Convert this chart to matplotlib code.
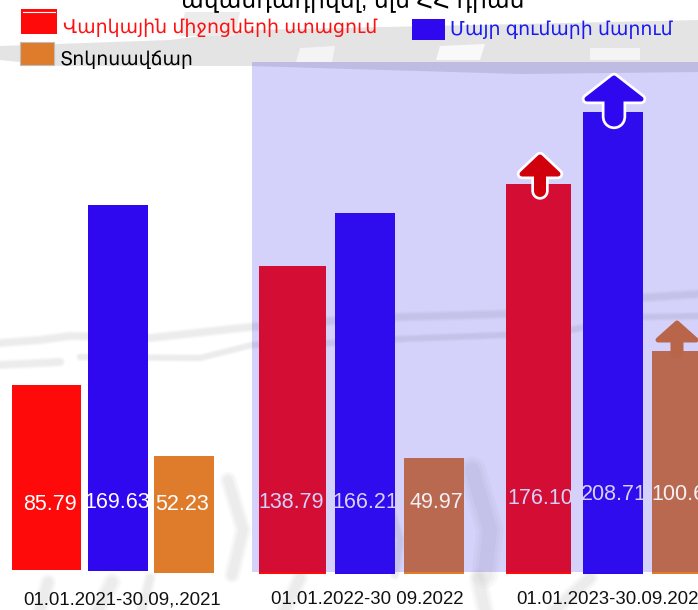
import numpy as np
import matplotlib
matplotlib.use("Agg")
import matplotlib.pyplot as plt
import matplotlib.patches as patches
import matplotlib.patheffects as pe

plt.rcParams['font.family'] = ['Liberation Sans', 'DejaVu Sans']

# labels written on the bars
red_txt = ["85.79", "138.79", "176.10"]
blue_txt = ["169.63", "166.21", "208.71"]
orange_txt = ["52.23", "49.97", "100.6"]
periods = ["01.01.2021-30.09,.2021", "01.01.2022-30 09.2022", "01.01.2023-30.09.2023"]

# bar heights as drawn (the picture does not follow the labels exactly)
red_h = [83.7, 139.4, 176.4]
blue_h = [165.6, 163.4, 209.0]
orange_h = [52.9, 52.4, 100.9]
# bars of the first group stop a little above the common base
red_bottom = [1.4, -0.4, -0.4]
blue_bottom = [0.9, -0.5, -0.4]
orange_bottom = [0, -0.4, -0.4]

red_name = "Վարկային միջոցների ստացում"
blue_name = "Մայր գումարի մարում"
orange_name = "Տոկոսավճար"
title = "ավանդադրվել, մլն ՀՀ դրամ"

RED, BLUE, ORANGE = "#ff0a0a", "#3008f0", "#de7c2c"
PANEL = "#2c1ee6"
W, H = 698, 610
SCALE = 2.21   # px per unit on the bars
BASE = 573

fig = plt.figure(figsize=(W / 100, H / 100), dpi=100)

# background smudges, in pixels
bg = fig.add_axes([0, 0, 1, 1], zorder=0)
bg.set_xlim(0, W)
bg.set_ylim(H, 0)
bg.axis("off")
grey = "#c4c4c4"


def smudge(xs, ys, lw):
    # a few wide translucent strokes give the soft edge
    for k, a in [(1.5, 0.09), (1.15, 0.11), (0.8, 0.13)]:
        bg.plot(xs, ys, color=grey, lw=lw * k, alpha=a, solid_capstyle="round", solid_joinstyle="round")


bg.fill([0, 170, 250, 700, 700, 520, 250, 60, 0], [46, 40, 30, 20, 72, 74, 66, 66, 60], color="#e4e4e4", lw=0)
bg.fill([185, 240, 235, 180], [12, 12, 36, 36], color="#ececec", lw=0)
bg.fill([440, 485, 480, 436], [46, 44, 60, 60], color="white", lw=0, alpha=0.8)
bg.fill([300, 335, 332, 296], [48, 46, 62, 62], color="white", lw=0, alpha=0.6)
bg.fill([590, 640, 640, 590], [48, 48, 60, 60], color="white", lw=0, alpha=0.6)
for xs, ys, lw in [
    ([0, 40, 70, 150, 250, 330, 400, 505], [343, 340, 336, 338, 327, 321, 317, 314], 5),
    ([80, 200, 252, 330, 400, 505, 570, 640, 698], [357, 358, 345, 343, 339, 335, 330, 317, 316], 4),
    ([640, 698], [298, 294], 5),
    ([0, 60], [365, 362], 5),
    ([232, 243, 228], [575, 530, 480], 8),
    ([485, 490, 472], [575, 530, 470], 13),
    ([395, 400, 388], [575, 540, 500], 5),
    ([40, 48], [610, 582], 8),
    ([98, 112], [610, 582], 9),
    ([142, 150], [610, 578], 6),
    ([285, 300], [610, 578], 8),
    ([485, 478], [610, 578], 9),
    ([555, 590], [610, 578], 8),
]:
    smudge(xs, ys, lw)

# bars, y axis in chart units
ax = fig.add_axes([0, 0, 1, 1], zorder=1)
ax.patch.set_alpha(0)
ax.set_xlim(0, W)
ax.set_ylim((BASE - H) / SCALE, BASE / SCALE)
ax.axis("off")

red_x = np.array([46.5, 292.5, 538.5])
blue_x = np.array([118, 365, 613])
orange_x = np.array([184, 434, 682])
red_w = [69, 67, 65]
blue_w = [60, 60, 60]
orange_w = [60, 60, 60]

ax.bar(red_x, red_h, red_w, bottom=red_bottom, color=RED)
ax.bar(blue_x, blue_h, blue_w, bottom=blue_bottom, color=BLUE)
ax.bar(orange_x, orange_h, orange_w, bottom=orange_bottom, color=ORANGE)

label_x = [[50, 291, 540], [117, 365, 614]]
label_y = [[505, 502, 498], [502, 502, 495]]
for lx, txts, ly in zip(label_x, [red_txt, blue_txt], label_y):
    for x, t, y in zip(lx, txts, ly):
        ax.text(x, (BASE - y) / SCALE, t, color="white", fontsize=15.5, ha="center", va="center")
ax.text(182, (BASE - 505) / SCALE, orange_txt[0], color="white", fontsize=15.5, ha="center", va="center")

# overlay: shaded panel, arrows, legend, title, in pixels
top = fig.add_axes([0, 0, 1, 1], zorder=2)
top.patch.set_alpha(0)
top.set_xlim(0, W)
top.set_ylim(H, 0)
top.axis("off")
top.add_patch(patches.Rectangle((252, 62), 446, 510, color=PANEL, alpha=0.2, lw=0))

# the labels on the orange bars stay white above the panel
top.text(436, 502, orange_txt[1], color="#f4f0f4", fontsize=15.5, ha="center", va="center")
top.text(678, 495, orange_txt[2], color="#f4f0f4", fontsize=15.5, ha="center", va="center")


def arrow(cx, y0, y1, y2, head, shaft, color, outline):
    t = np.linspace(0, np.pi, 9)
    bottom = [(cx + shaft * np.cos(a), y2 + shaft * np.sin(a)) for a in t]
    pts = [(cx, y0), (cx + head, y1), (cx + shaft, y1)] + bottom + [(cx - shaft, y1), (cx - head, y1)]
    p = patches.Polygon(pts, closed=True, facecolor=color, edgecolor=color, lw=3.6, joinstyle="round")
    if outline:
        p.set_path_effects([pe.withStroke(linewidth=7.5, foreground="white")])
    top.add_patch(p)


arrow(614, 78, 99, 117, 27, 7, BLUE, True)
arrow(540, 157, 174, 191, 18, 3.5, "#d0000c", True)
arrow(677, 323, 340, 352, 19, 4, "#b96549", False)

top.add_patch(patches.Rectangle((21, 9), 36, 25, color=RED, lw=0))
top.plot([23, 55], [12, 12], color="white", lw=0.8)
top.add_patch(patches.Rectangle((19.5, 41.5), 34, 23, facecolor=ORANGE, edgecolor="#bdbdbd", lw=0.8))
top.add_patch(patches.Rectangle((412, 19), 33, 21, color=BLUE, lw=0))
top.text(63, 28, red_name, color="#ff1010", fontsize=13.55, ha="left", va="center")
top.text(450, 30, blue_name, color="#1a1af0", fontsize=13.6, ha="left", va="center")
top.text(60, 60, orange_name, color="black", fontsize=13.6, ha="left", va="center")
top.text(353, 8, title, color="black", fontsize=16.8, ha="center", va="baseline")

for x, t in zip([122, 367, 613], periods):
    top.text(x, 600, t, color="#111111", fontsize=13.4, ha="center", va="center")

fig.savefig("out.png", dpi=100)
